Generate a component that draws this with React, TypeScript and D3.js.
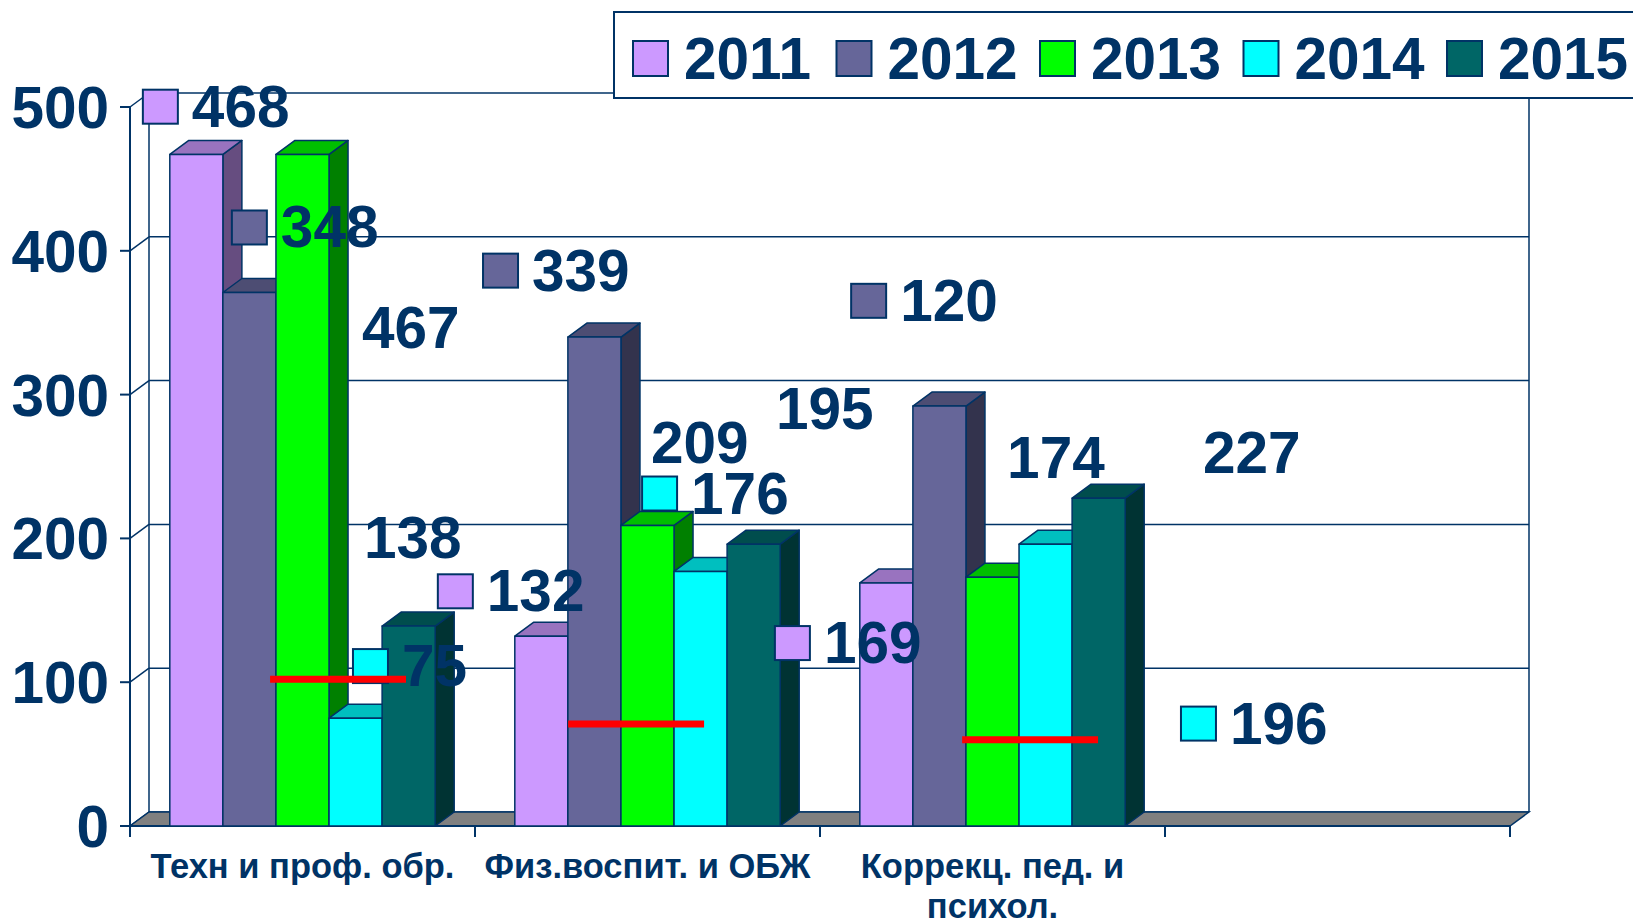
import React from "react";
import * as d3 from "d3";

// categories (the last one is an empty slot on the axis)
const categories = ["Техн и проф. обр.", "Физ.воспит. и ОБЖ", "Коррекц. пед. и\nпсихол.", ""];
const years = ["2011", "2012", "2013", "2014", "2015"];

// bar heights
const values2011 = [467, 132, 169];
const values2012 = [371, 340, 292];
const values2013 = [467, 209, 173];
const values2014 = [75, 177, 196];
const values2015 = [139, 196, 228];

// data labels as printed on the chart
const labels2011 = [468, 132, 169];
const labels2012 = [348, 339, 120];
const labels2013 = [467, 209, 174];
const labels2014 = [75, 176, 196];
const labels2015 = [138, 195, 227];

// red "norm" marks per category
const normValues = [102, 71, 60];

const yTicks = [0, 100, 200, 300, 400, 500];

const seriesValues = [values2011, values2012, values2013, values2014, values2015];
const seriesLabels = [labels2011, labels2012, labels2013, labels2014, labels2015];

// layout: where the dragged data labels sit, [category units, value units]
const labelSpots = [
  [[0.188, 487], [1.043, 150], [2.02, 114]],
  [[0.446, 403], [1.174, 373], [2.241, 352]],
  [[0.681, 333], [1.519, 253], [2.551, 243]],
  [[0.797, 98], [1.635, 218], [3.197, 58]],
  [[0.687, 187], [1.881, 277], [3.119, 246]],
];
const labelHasKey = [true, true, false, true, false];
const normSpan = [0.406, 1.27, 2.412];
const normWidth = 0.394;

const fills = ["#CC99FF", "#666699", "#00FF00", "#00FFFF", "#006666"];
const navy = "#003366";
const font = "'Liberation Sans', Arial, sans-serif";

const width = 1633;
const height = 924;
const DX = 19;
const DY = -14;
const bigFont = 58.5;

const shade = (c: string, k: number) => {
  const r = d3.rgb(c);
  return d3.rgb(r.r * k, r.g * k, r.b * k).formatHex();
};

export default function App() {
  const xCat = d3.scaleBand<string>().domain(categories).range([130, 1510]).padding(0);
  const xSer = d3.scaleBand<string>().domain(years).range([0, xCat.bandwidth()]).paddingInner(0).paddingOuter(0.75);
  const xLin = d3.scaleLinear().domain([0, categories.length]).range([130, 1510]);
  const y = d3.scaleLinear().domain([0, 500]).range([826, 107]);
  const bw = xSer.bandwidth();
  const y0 = y(0);
  const left = 130;
  const right = 1510;

  const bars: JSX.Element[] = [];
  categories.forEach((cat, ci) => {
    years.forEach((yr, si) => {
      const v = seriesValues[si][ci];
      if (v === undefined) return;
      const x0 = (xCat(cat) as number) + (xSer(yr) as number);
      const yt = y(v);
      const pts = (a: number[][]) => a.map((p) => p.join(",")).join(" ");
      bars.push(
        <g key={`${ci}-${si}`} stroke={navy} strokeWidth={1.5} strokeLinejoin="round">
          <polygon
            points={pts([[x0 + bw, yt], [x0 + bw + DX, yt + DY], [x0 + bw + DX, y0 + DY], [x0 + bw, y0]])}
            fill={shade(fills[si], 0.5)}
          />
          <polygon
            points={pts([[x0, yt], [x0 + DX, yt + DY], [x0 + bw + DX, yt + DY], [x0 + bw, yt]])}
            fill={shade(fills[si], 0.75)}
          />
          <rect x={x0} y={yt} width={bw} height={y0 - yt} fill={fills[si]} />
        </g>
      );
    });
  });

  return (
    <svg width={width} height={height} style={{ position: "absolute", left: 0, top: 0, background: "#fff" }}>
      {/* walls */}
      <g stroke={navy} strokeWidth={1.5} fill="none">
        {yTicks.map((t) => (
          <g key={t}>
            <line x1={left + DX} x2={right + DX} y1={y(t) + DY} y2={y(t) + DY} />
            <line x1={left} x2={left + DX} y1={y(t)} y2={y(t) + DY} />
          </g>
        ))}
        <line x1={left + DX} x2={left + DX} y1={y(500) + DY} y2={y0 + DY} />
        <line x1={right + DX} x2={right + DX} y1={y(500) + DY} y2={y0 + DY} />
      </g>
      {/* floor */}
      <polygon
        points={`${left},${y0} ${right},${y0} ${right + DX},${y0 + DY} ${left + DX},${y0 + DY}`}
        fill="#808080"
        stroke={navy}
        strokeWidth={1.5}
      />
      {/* axes */}
      <g stroke={navy} strokeWidth={2}>
        <line x1={left} x2={left} y1={y(500)} y2={y0 + 11} />
        <line x1={left} x2={right} y1={y0} y2={y0} />
        {yTicks.map((t) => (
          <line key={t} x1={left - 10} x2={left} y1={y(t)} y2={y(t)} />
        ))}
        {categories.map((c, i) => (
          <line key={i} x1={xLin(i + 1)} x2={xLin(i + 1)} y1={y0} y2={y0 + 11} />
        ))}
      </g>
      <g fill={navy} fontFamily={font} fontWeight="bold" fontSize={bigFont} textAnchor="end">
        {yTicks.map((t) => (
          <text key={t} x={109} y={y(t) + 21}>
            {t}
          </text>
        ))}
      </g>
      <g fill={navy} fontFamily={font} fontWeight="bold" fontSize={34.5} textAnchor="middle">
        {categories.map((c, i) =>
          c.split("\n").map((line, li) => (
            <text key={`${i}-${li}`} x={(xCat(c) as number) + xCat.bandwidth() / 2} y={878 + li * 40}>
              {line}
            </text>
          ))
        )}
      </g>
      {bars}
      {/* data labels */}
      <g fontFamily={font} fontWeight="bold" fontSize={bigFont} fill={navy}>
        {seriesLabels.map((labs, si) =>
          labs.map((lab, ci) => {
            const [cx, cv] = labelSpots[si][ci];
            const tx = xLin(cx);
            const ty = y(cv);
            return (
              <g key={`${si}-${ci}`}>
                {labelHasKey[si] && (
                  <rect x={tx - 52} y={ty - 36} width={35} height={34} fill={fills[si]} stroke={navy} strokeWidth={2} />
                )}
                <text x={tx - 3} y={ty + 1}>
                  {lab}
                </text>
              </g>
            );
          })
        )}
      </g>
      {/* norm marks */}
      <g stroke="#FF0000" strokeWidth={7}>
        {normValues.map((v, i) => (
          <line key={i} x1={xLin(normSpan[i])} x2={xLin(normSpan[i] + normWidth)} y1={y(v)} y2={y(v)} />
        ))}
      </g>
      {/* legend */}
      <rect x={614} y={12} width={1100} height={86} fill="#fff" stroke={navy} strokeWidth={2} />
      <g fontFamily={font} fontWeight="bold" fontSize={bigFont} fill={navy}>
        {years.map((yr, i) => (
          <g key={yr} transform={`translate(${633 + i * 203.5},0)`}>
            <rect x={0} y={41} width={35} height={35} fill={fills[i]} stroke={navy} strokeWidth={2} />
            <text x={51} y={79}>
              {yr}
            </text>
          </g>
        ))}
      </g>
    </svg>
  );
}
